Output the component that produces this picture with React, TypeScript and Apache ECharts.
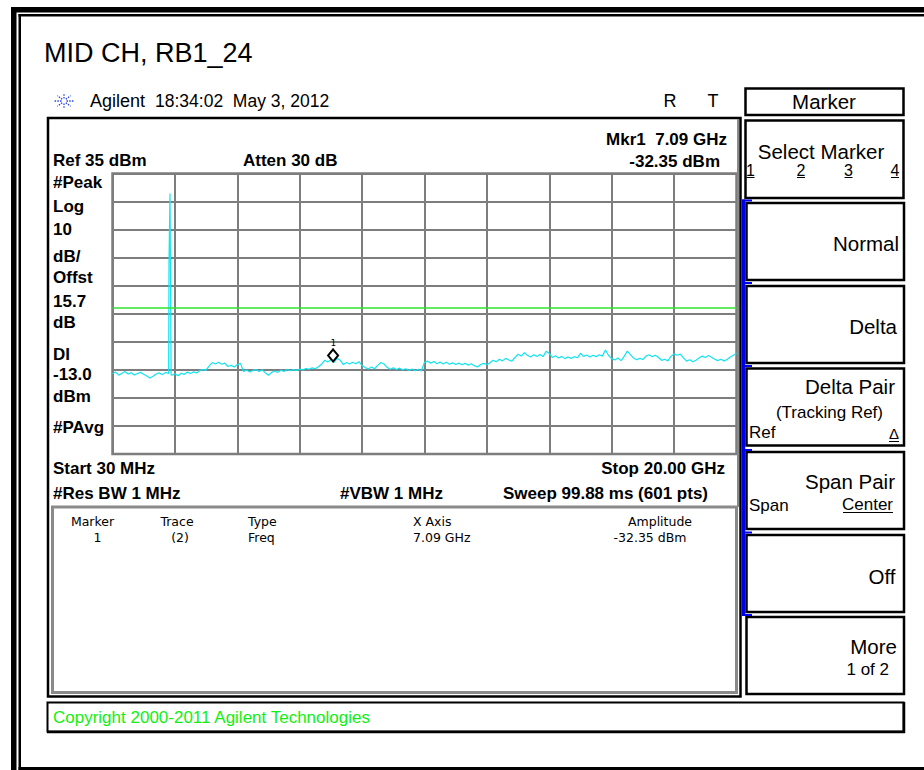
import React, { useEffect, useRef } from "react";
import * as echarts from "echarts";

// ---- Data ----
const SWEEP_START_GHZ = 0.03;
const SWEEP_STOP_GHZ = 20.0;
const REF_LEVEL_DBM = 35;
const DB_PER_DIV = 10;
const DISPLAY_LINE_DBM = -13;
const MARKER_GHZ = 7.09;
const MARKER_DBM = -32.35;

// trace (evenly spaced sweep points across the span)
const TRACE_DBM = [
  -36.4, -35.8, -36.9, -36.2, -35.6, -36.5, -36.0, -36.8, -36.3, -35.9,
  -36.6, -37.2, -37.9, -37.3, -36.5, -36.1, -36.7, -35.9, -36.3, -36.9,
  -36.4, -37.1, -36.2, -36.6, -35.8, -36.3, -35.7, -36.1, -35.2, -34.9,
  -35.1, -33.6, -32.4, -32.9, -32.3, -33.0, -32.6, -33.8, -33.4, -34.0,
  -33.2, -32.7, -35.6, -35.1, -35.8, -35.2, -34.9, -35.6, -35.0, -36.1,
  -36.9, -35.9, -35.4, -35.9, -35.1, -35.6, -34.8, -35.3, -34.9, -35.2,
  -34.7, -35.0, -34.5, -34.8, -34.3, -34.6, -33.9, -33.0, -31.6, -32.2,
  -31.4, -32.35, -30.9, -31.6, -33.1, -32.4, -32.9, -32.3, -32.8, -32.1,
  -33.5, -34.2, -34.7, -34.0, -34.6, -33.4, -32.4, -32.9, -34.1, -34.8,
  -34.3, -34.9, -34.4, -35.0, -34.6, -35.2, -34.7, -35.3, -34.8, -35.4,
  -32.3, -31.9, -32.6, -32.0, -32.8, -32.2, -32.9, -32.3, -33.0, -32.5,
  -33.1, -32.6, -33.2, -32.7, -33.3, -32.8, -33.5, -34.0, -33.1, -32.7,
  -33.2, -32.5, -31.6, -32.1, -31.2, -31.8, -30.9, -31.5, -31.9, -30.6,
  -29.4, -30.1, -28.9, -29.8, -30.4, -29.6, -30.2, -29.5, -30.3, -28.4,
  -29.2, -30.6, -30.0, -30.8, -30.2, -31.0, -30.4, -30.9, -30.3, -30.7,
  -29.1, -30.2, -29.7, -30.4, -29.8, -30.3, -29.6, -30.1, -27.9, -29.9,
  -31.0, -31.5, -30.8, -31.7, -30.2, -28.3, -29.6, -30.8, -31.4, -30.9,
  -31.3, -30.1, -29.6, -30.3, -29.8, -30.6, -31.6, -31.2, -31.8, -30.2,
  -29.3, -29.8, -29.4, -30.7, -31.9, -31.4, -32.1, -31.6, -30.8, -30.1,
  -30.6, -29.9, -30.5, -31.2, -31.7, -31.2, -31.8, -31.3, -30.4, -29.8,
  -29.1,
];

// carrier spike points
const SPIKE_GHZ = [1.838, 1.87, 1.906];
const SPIKE_DBM = [3.1, 27.9, -36.8];

const LEFT_LABELS = ["#Peak", "Log", "10", "dB/", "Offst", "15.7", "dB", "DI", "-13.0", "dBm", "#PAvg"];

const TABLE_HEADERS = ["Marker", "Trace", "Type", "X Axis", "Amplitude"];
const TABLE_ROW = ["1", "(2)", "Freq", "7.09 GHz", "-32.35 dBm"];

const FONT = 'Arial, "Liberation Sans", sans-serif';
const TABLE_FONT = '"DejaVu Sans", Arial, sans-serif';

function txt(
  text: string,
  x: number,
  y: number,
  size: number,
  opts: { bold?: boolean; color?: string; align?: string; family?: string } = {}
) {
  const align = opts.align || "left";
  return {
    type: "text",
    x,
    y,
    silent: true,
    z: 10,
    style: {
      text,
      font: `${opts.bold ? "bold " : ""}${size}px ${opts.family || FONT}`,
      fill: opts.color || "#000",
      textAlign: align,
      align,
      textVerticalAlign: "middle",
      verticalAlign: "middle",
    },
  };
}

function rect(x: number, y: number, w: number, h: number, stroke: string, lw: number, fill = "none") {
  return {
    type: "rect",
    silent: true,
    z: 5,
    shape: { x, y, width: w, height: h },
    style: { fill, stroke, lineWidth: lw },
  };
}

function line(x1: number, y1: number, x2: number, y2: number, stroke: string, lw: number, dash?: number[]) {
  return {
    type: "line",
    silent: true,
    z: 6,
    shape: { x1, y1, x2, y2 },
    style: { stroke, lineWidth: lw, lineDash: dash },
  };
}

function buildGraphics() {
  const g: any[] = [];
  // outer page frame
  g.push(rect(11, 7, 913, 5.5, "none", 0, "#000"));
  g.push(rect(11, 7, 5.5, 763, "none", 0, "#000"));
  g.push(rect(18.5, 14, 905.5, 2.5, "none", 0, "#000"));
  g.push(rect(18.5, 14, 2.5, 756, "none", 0, "#000"));
  g.push(rect(18.5, 767, 905.5, 3, "none", 0, "#000"));

  // title
  g.push(txt("MID CH, RB1_24", 44, 52.5, 27));

  // Agilent logo (starburst)
  const cx = 64, cy = 101;
  for (let k = 0; k < 8; k++) {
    const a = (k * Math.PI) / 4;
    g.push(line(cx + Math.cos(a) * 2.5, cy + Math.sin(a) * 2.5, cx + Math.cos(a) * 9.5, cy + Math.sin(a) * 7.5, "#2b45e8", 1.3, [1.5, 1.2]));
  }
  g.push(txt("Agilent", 90, 101, 18));
  g.push(txt("18:34:02  May 3, 2012", 155, 101, 17.5));
  g.push(txt("R", 670, 101, 18, { align: "center" }));
  g.push(txt("T", 713, 101, 18, { align: "center" }));

  // display frame
  g.push(rect(48, 118, 692.5, 578.5, "#000", 2.5));
  g.push(line(738, 119, 738, 507, "#8a8a8a", 2));
  g.push(rect(52.5, 507, 684, 185.5, "#8a8a8a", 3));

  // header texts of graticule
  g.push(txt("Mkr1  7.09 GHz", 727, 139.5, 17, { bold: true, align: "right" }));
  g.push(txt("-32.35 dBm", 720, 161.5, 17, { bold: true, align: "right" }));
  g.push(txt("Ref 35 dBm", 53, 160, 17, { bold: true }));
  g.push(txt("Atten 30 dB", 243, 160, 17, { bold: true }));

  const leftY = [182.5, 206.5, 229, 256, 277.5, 301, 322.5, 354, 374, 396, 427.5];
  LEFT_LABELS.forEach((s, i) => g.push(txt(s, 53, leftY[i], 17, { bold: true })));

  g.push(txt("Start 30 MHz", 53, 468.5, 17, { bold: true }));
  g.push(txt("Stop 20.00 GHz", 725, 468.5, 17, { bold: true, align: "right" }));
  g.push(txt("#Res BW 1 MHz", 53, 493.5, 17, { bold: true }));
  g.push(txt("#VBW 1 MHz", 340, 493.5, 17, { bold: true }));
  g.push(txt("Sweep 99.88 ms (601 pts)", 708, 493.5, 17, { bold: true, align: "right" }));

  // marker table
  const colX = [92.5, 177, 248, 413, 660];
  const colA = ["center", "center", "left", "left", "center"];
  const rowX = [97.5, 180, 248, 413, 650];
  TABLE_HEADERS.forEach((s, i) => g.push(txt(s, colX[i], 521, 12.5, { align: colA[i], family: TABLE_FONT })));
  TABLE_ROW.forEach((s, i) => g.push(txt(s, rowX[i], 537.5, 12.5, { align: colA[i], family: TABLE_FONT })));

  // copyright box
  g.push(rect(47.5, 702.5, 856, 29, "#000", 2));
  g.push(line(47, 732, 905, 732, "#000", 2.5));
  g.push(line(904, 702, 904, 733, "#000", 2.5));
  g.push(txt("Copyright 2000-2011 Agilent Technologies", 53, 717, 17, { color: "#10f010" }));

  // softkey panel
  g.push(rect(745.5, 88.5, 158, 26.5, "#000", 2.5));
  g.push(txt("Marker", 824, 101.5, 20.5, { align: "center" }));
  g.push(rect(745.5, 120.5, 158, 77.5, "#000", 2.5));
  g.push(txt("Select Marker", 821, 151, 20.5, { align: "center" }));
  const nums = [["1", 750.5], ["2", 801], ["3", 848.5], ["4", 895]];
  nums.forEach(([s, x]) => {
    g.push(txt(s as string, x as number, 170, 16, { align: "center" }));
    g.push(line((x as number) - 4, 177.5, (x as number) + 4, 177.5, "#000", 1));
  });

  const tops = [203, 286, 368.5, 452, 535, 617];
  tops.forEach((t) => g.push(rect(746.5, t, 157.5, 77, "#000", 2.5)));

  g.push(txt("Normal", 899, 243.5, 20.5, { align: "right" }));
  g.push(txt("Delta", 897, 326, 20.5, { align: "right" }));
  g.push(txt("Delta Pair", 895, 386, 20.5, { align: "right" }));
  g.push(txt("(Tracking Ref)", 883, 412.5, 17, { align: "right" }));
  g.push(txt("Ref", 749, 432.5, 17));
  g.push(txt("\u0394", 899, 433, 15, { align: "right" }));
  g.push(line(889, 441.5, 899, 441.5, "#000", 1));
  g.push(txt("Span Pair", 895, 481.5, 20.5, { align: "right" }));
  g.push(txt("Span", 749, 505, 17));
  g.push(txt("Center", 893, 504.5, 17, { align: "right" }));
  g.push(line(843, 512.5, 893, 512.5, "#000", 1));
  g.push(txt("Off", 895.5, 576, 20.5, { align: "right" }));
  g.push(txt("More", 897, 646.5, 20.5, { align: "right" }));
  g.push(txt("1 of 2", 889, 669.5, 17, { align: "right" }));

  // blue bar with ticks
  g.push(rect(742, 199.5, 3.2, 416, "none", 0, "#0000f0"));
  [200.5, 283, 366, 450, 532.5, 615].forEach((y) => g.push(rect(742, y - 1, 10, 2, "none", 0, "#0000f0")));
  return g;
}

export default function App() {
  const ref = useRef<HTMLDivElement>(null);
  useEffect(() => {
    if (!ref.current) return;
    const chart = echarts.init(ref.current, null, { renderer: "svg" });
    const step = (SWEEP_STOP_GHZ - SWEEP_START_GHZ) / (TRACE_DBM.length - 1);
    const pts: number[][] = TRACE_DBM.map((v, i) => [SWEEP_START_GHZ + i * step, v])
      .concat(SPIKE_GHZ.map((f, i) => [f, SPIKE_DBM[i]]))
      .sort((a, b) => a[0] - b[0]);
    const gridLine = { show: true, lineStyle: { color: "#7d7d7d", width: 2 } };
    const bottom = REF_LEVEL_DBM - 10 * DB_PER_DIV;
    chart.setOption({
      animation: false,
      backgroundColor: "#fff",
      grid: {
        left: 112.5,
        top: 173.5,
        width: 624,
        height: 280.5,
        show: true,
        borderColor: "#7d7d7d",
        borderWidth: 2.5,
        backgroundColor: "transparent",
      },
      xAxis: {
        type: "value",
        min: SWEEP_START_GHZ,
        max: SWEEP_STOP_GHZ,
        interval: (SWEEP_STOP_GHZ - SWEEP_START_GHZ) / 10,
        axisLabel: { show: false },
        axisTick: { show: false },
        axisLine: { show: false },
        splitLine: gridLine,
      },
      yAxis: {
        type: "value",
        min: bottom,
        max: REF_LEVEL_DBM,
        interval: DB_PER_DIV,
        axisLabel: { show: false },
        axisTick: { show: false },
        axisLine: { show: false },
        splitLine: gridLine,
      },
      series: [
        {
          type: "line",
          data: pts,
          showSymbol: false,
          symbol: "none",
          lineStyle: { color: "#12e4f2", width: 1.2 },
          z: 3,
          markLine: {
            silent: true,
            symbol: "none",
            label: { show: false },
            lineStyle: { color: "#2ee42e", width: 1.5, type: "solid" },
            data: [{ yAxis: DISPLAY_LINE_DBM }],
          },
          markPoint: {
            silent: true,
            data: [
              {
                coord: [MARKER_GHZ, MARKER_DBM],
                symbol: "diamond",
                symbolSize: [10, 12],
                symbolOffset: [0, -7],
                itemStyle: { color: "#fff", borderColor: "#000", borderWidth: 2 },
                label: {
                  show: true,
                  position: "top",
                  distance: 1,
                  formatter: "1",
                  fontSize: 9,
                  color: "#000",
                  fontFamily: "monospace",
                },
              },
            ],
          },
        },
      ],
      graphic: { elements: buildGraphics() },
    });
    return () => chart.dispose();
  }, []);
  return (
    <div
      ref={ref}
      style={{ position: "absolute", left: 0, top: 0, width: 924, height: 770, background: "#fff" }}
    />
  );
}
